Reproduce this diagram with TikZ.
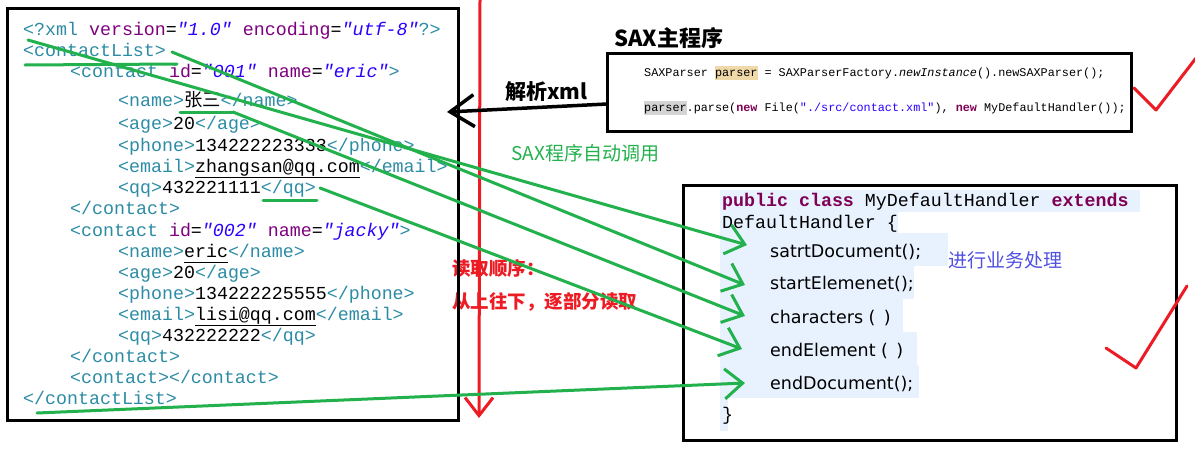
\documentclass[tikz,border=0pt]{standalone}
\usepackage{fontspec}
\usepackage{xcolor}
\usepackage{tikz}
\usetikzlibrary{arrows.meta}

\newfontfamily\codefont{Liberation Mono}
\newfontfamily\cjk{Noto Sans CJK SC}
\newfontfamily\methfont{DejaVu Sans}

\definecolor{paintgreen}{RGB}{34,177,76}
\definecolor{paintred}{RGB}{237,28,36}
\definecolor{xmltag}{RGB}{45,140,165}
\definecolor{xmlattr}{RGB}{127,0,127}
\definecolor{xmlval}{RGB}{42,0,255}
\definecolor{javakw}{RGB}{127,0,85}
\definecolor{javastr}{RGB}{42,0,255}
\definecolor{hlblue}{RGB}{232,242,254}
\definecolor{hltan}{RGB}{240,216,168}
\definecolor{hlgray}{RGB}{212,212,212}
\definecolor{notecolor}{RGB}{80,80,225}

\newcommand{\xt}[1]{\textcolor{xmltag}{#1}}
\newcommand{\xa}[1]{\textcolor{xmlattr}{#1}}
\newcommand{\xv}[1]{\textcolor{xmlval}{\textit{#1}}}
\newcommand{\lnk}[1]{\underline{#1\vphantom{gq}}}
\newcommand{\jk}[1]{\textcolor{javakw}{\textbf{#1}}}
\newcommand{\js}[1]{\textcolor{javastr}{#1}}
\newcommand{\hlb}[2]{{\setlength{\fboxsep}{0pt}\colorbox{#1}{\strut #2}}}

\begin{document}
\begin{tikzpicture}[x=1pt, y=-1pt,
   xmlline/.style={anchor=base west, inner sep=0pt, font=\codefont\fontsize{18.3}{22}\selectfont},
   saxline/.style={anchor=base west, inner sep=0pt, font=\codefont\fontsize{11.8}{14}\selectfont},
   method/.style={anchor=base west, inner sep=0pt, font=\methfont\fontsize{17.5}{21}\selectfont},
   cjknote/.style={anchor=west, inner sep=0pt},
   box/.style={draw, line width=3pt, inner sep=0pt},
   greenpen/.style={draw=paintgreen, line width=3pt, line cap=round},
   greenarrow/.style={greenpen, -{Straight Barb[length=18pt,width=30pt]}},
   redpen/.style={draw=paintred, line width=3pt, line cap=round, line join=round}]
   \useasboundingbox[fill=white] (0,0) rectangle (1195,453);

   \fill [hlblue] (720,190) rectangle (1140,212);
   \fill [hlblue] (720,212) rectangle (898,233);
   \fill [hlblue] (720,233) rectangle (948,266);
   \fill [hlblue] (720,266) rectangle (914,299);
   \fill [hlblue] (720,299) rectangle (903,332);
   \fill [hlblue] (720,332) rectangle (917,365);
   \fill [hlblue] (720,365) rectangle (919,398);
   \fill [hlblue] (720,398) rectangle (728,431);

   \node [xmlline] (xmlDecl)   at ( 23, 35) {\xt{<?xml} \xa{version}=\xv{"1.0"} \xa{encoding}=\xv{"utf-8"}\xt{?>}};
   \node [xmlline] (listOpen)  at ( 23, 56) {\xt{<contactList>}};
   \node [xmlline] (c1Open)    at ( 70, 77) {\xt{<contact} \xa{id}=\xv{"001"} \xa{name}=\xv{"eric"}\xt{>}};
   \node [xmlline] (c1Name)    at (118,106) {\xt{<name>}{\cjk 张三}\xt{</name>}};
   \node [xmlline] (c1Age)     at (118,129) {\xt{<age>}20\xt{</age>}};
   \node [xmlline] (c1Phone)   at (118,151) {\xt{<phone>}134222223333\xt{</phone>}};
   \node [xmlline] (c1Email)   at (118,172) {\xt{<email>}\lnk{zhangsan@qq.com}\xt{</email>}};
   \node [xmlline] (c1QQ)      at (118,193) {\xt{<qq>}432221111\xt{</qq>}};
   \node [xmlline] (c1Close)   at ( 70,214) {\xt{</contact>}};
   \node [xmlline] (c2Open)    at ( 70,236) {\xt{<contact} \xa{id}=\xv{"002"} \xa{name}=\xv{"jacky"}\xt{>}};
   \node [xmlline] (c2Name)    at (118,257) {\xt{<name>}\lnk{eric}\xt{</name>}};
   \node [xmlline] (c2Age)     at (118,278) {\xt{<age>}20\xt{</age>}};
   \node [xmlline] (c2Phone)   at (118,299) {\xt{<phone>}134222225555\xt{</phone>}};
   \node [xmlline] (c2Email)   at (118,320) {\xt{<email>}\lnk{lisi@qq.com}\xt{</email>}};
   \node [xmlline] (c2QQ)      at (118,341) {\xt{<qq>}432222222\xt{</qq>}};
   \node [xmlline] (c2Close)   at ( 70,362) {\xt{</contact>}};
   \node [xmlline] (c3)        at ( 70,383) {\xt{<contact></contact>}};
   \node [xmlline] (listClose) at ( 23,404) {\xt{</contactList>}};

   \node [saxline] (saxLine1) at (644, 76) {SAXParser \hlb{hltan}{parser} = SAXParserFactory.\textit{newInstance}().newSAXParser();};
   \node [saxline] (saxLine2) at (644,111) {\hlb{hlgray}{parser}.parse(\jk{new} File(\js{"./src/contact.xml"}), \jk{new} MyDefaultHandler());};

   \node [xmlline] (handlerHead) at (722,206) {\jk{public} \jk{class} MyDefaultHandler \jk{extends}};
   \node [xmlline] (handlerBase) at (722,228) {DefaultHandler \{};
   \node [method]  (mStartDoc)   at (770,257) {satrtDocument();};
   \node [method]  (mStartElem)  at (770,289) {startElemenet();};
   \node [method]  (mChars)      at (770,323) {characters ( \,)};
   \node [method]  (mEndElem)    at (770,356) {endElement ( \,)};
   \node [method]  (mEndDoc)     at (770,389) {endDocument();};
   \node [xmlline] (handlerEnd)  at (722,420) {\}};

   \node [cjknote, font=\cjk\bfseries\fontsize{22}{26}\selectfont] (mainTitle) at (614, 38) {SAX主程序};
   \node [cjknote, font=\cjk\bfseries\fontsize{21}{25}\selectfont] (parseNote) at (505, 92) {解析xml};
   \node [cjknote, font=\cjk\fontsize{19}{23}\selectfont, text=paintgreen] (autoNote) at (511,153) {SAX程序自动调用};
   \node [cjknote, font=\cjk\fontsize{19}{23}\selectfont, text=notecolor] (workNote) at (948,260) {进行业务处理};
   \node [cjknote, font=\cjk\bfseries\fontsize{18.5}{22}\selectfont, text=paintred] (orderNote1) at (452,268) {读取顺序：};
   \node [cjknote, font=\cjk\bfseries\fontsize{18.5}{22}\selectfont, text=paintred] (orderNote2) at (452,302) {从上往下，逐部分读取};

   \node [box, minimum width=451pt, minimum height=412pt] (xmlBox)     at (232.5,214)  {};
   \node [box, minimum width=524pt, minimum height=78pt]  (saxBox)     at (869,92)     {};
   \node [box, minimum width=493pt, minimum height=255pt] (handlerBox) at (929.5,312.5) {};

   \coordinate (orderTop) at (480,0);
   \coordinate (orderEnd) at (479,418);
   \draw [redpen, -{Straight Barb[length=18pt,width=28pt]}] (orderTop) -- (orderEnd);

   \coordinate (parseFrom) at (607,104);
   \coordinate (parseTo)   at (447,112);
   \draw [line width=3.5pt, -{Straight Barb[length=24pt,width=32pt]}] (parseFrom) -- (parseTo);

   \coordinate (docFrom)    at ( 28, 40);
   \coordinate (elemFrom)   at (172, 52);
   \coordinate (charFrom)   at (233,112);
   \coordinate (endElFrom)  at (320,188);
   \coordinate (endDocFrom) at ( 37,413);
   \coordinate (docTo)      at (747,245);
   \coordinate (elemTo)     at (745,285);
   \coordinate (charTo)     at (745,316);
   \coordinate (endElTo)    at (742,349);
   \coordinate (endDocTo)   at (745,383);

   \draw [greenpen] ( 25, 65) -- (177, 64);
   \draw [greenpen] (180,112) -- (charFrom);
   \draw [greenpen] (263,200) -- (317,200);

   \draw [greenarrow] (docFrom)    -- (docTo);
   \draw [greenarrow] (elemFrom)   -- (elemTo);
   \draw [greenarrow] (charFrom)   -- (charTo);
   \draw [greenarrow] (endElFrom)  -- (endElTo);
   \draw [greenarrow] (endDocFrom) -- (endDocTo);

   \draw [redpen] (1134, 88) -- (1156,110) -- (1196, 58);
   \draw [redpen] (1106,348) -- (1136,368) -- (1187,286);
\end{tikzpicture}
\end{document}
